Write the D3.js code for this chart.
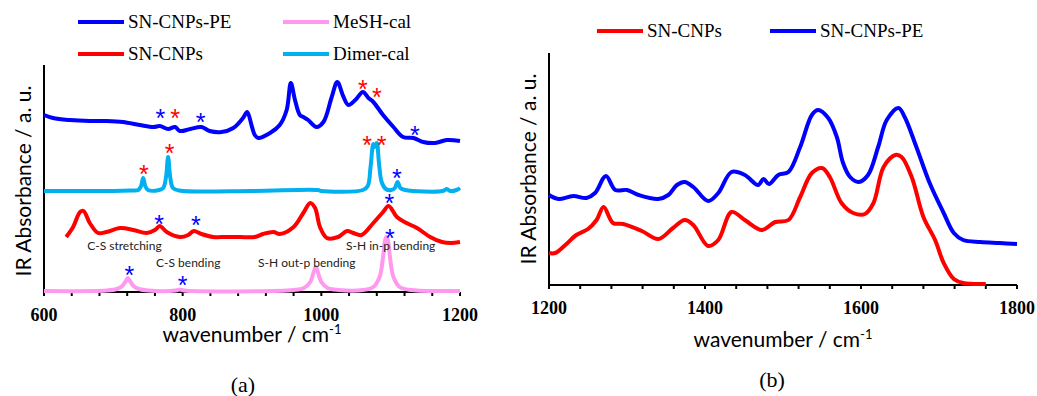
<!DOCTYPE html>
<html>
<head>
<meta charset="utf-8">
<script src="https://cdn.jsdelivr.net/npm/d3@7"></script>
<style>
  body { margin: 0; background: #fff; }
  svg { display: block; }
</style>
</head>
<body>
<svg id="chart" width="1037" height="396"></svg>
<script>
// ---- data (wavenumber, absorbance in a.u.) ----
var leftTicks  = [600, 800, 1000, 1200]
var rightTicks = [1200, 1400, 1600, 1800]

var leftLegend  = ["SN-CNPs-PE", "MeSH-cal", "SN-CNPs", "Dimer-cal"]
var rightLegend = ["SN-CNPs", "SN-CNPs-PE"]

// (a) SN-CNPs-PE, offset trace on top
var pePoints = [[600,177],[613,174],[637,172],[666,171],[690,171],[714,170],[738,167],[758,165],
  [767,166],[779,163],[789,165],[796,161],[811,163],[827,165],[839,161],[856,160],[873,164],
  [887,174],[893,180],[900,165],[904,157],[909,154],[926,159],[940,167],[950,182],[956,209],
  [962,192],[969,177],[974,175],[981,172],[993,165],[1003,170],[1015,195],[1023,210],[1032,195],
  [1039,187],[1049,192],[1060,200],[1068,194],[1075,190],[1089,177],[1104,165],[1118,155],
  [1133,154],[1147,150],[1164,149],[1181,152],[1200,151]]

// (a) Dimer-cal
var dimerPoints = [[600,101],[700,101],[725,101.5],[736,102],[740,106],[743,114],[746,106],[750,102],
  [766,102],[772,104],[776,115],[779,135],[782,115],[786,104],[795,101.5],[900,101],[995,102],
  [1000,101],[1060,102],[1067,106],[1071,125],[1075,148],[1077,145],[1080,149],[1083,130],[1087,110],
  [1093,103],[1101,102],[1106,104],[1110,110],[1114,104],[1121,102],[1175,101],[1181,103],[1186,101],
  [1195,102],[1200,104]]

// (a) SN-CNPs
var cnpPoints = [[632,55],[642,65],[652,80],[657,81],[666,69],[678,59],[690,60],[710,64],[729,62],
  [748,59],[760,62],[767,66],[777,60],[796,55],[808,57],[816,61],[827,58],[844,55],[863,55],
  [883,55],[904,55],[916,58],[931,60],[940,58],[960,65],[974,79],[984,89],[991,84],[998,65],
  [1008,54],[1024,55],[1037,61],[1046,59],[1058,57],[1075,69],[1089,80],[1097,86],[1109,75],
  [1123,69],[1138,64],[1157,55],[1174,50],[1187,49],[1200,50]]

// (a) MeSH-cal
var meshPoints = [[600,1],[690,1.5],[705,3],[713,6],[718,11],[721,14],[724,11],[729,6],[737,3],
  [750,1.5],[790,1.5],[796,2.5],[802,1.5],[960,2],[975,4],[984,10],[989,20],[992,25],[995,20],
  [1000,10],[1009,4],[1025,2],[1060,2],[1075,5],[1084,15],[1089,35],[1092,52],[1094,55],[1096,52],
  [1099,35],[1104,15],[1113,5],[1130,2],[1200,1]]

// (a) asterisk marks: wavenumber, level, colour key
var starMarks = [[768,179,"b"],[789,179,"r"],[826,175,"b"],[744,123,"r"],[781,144,"r"],
  [766,73,"b"],[819,72,"b"],[723,22,"b"],[800,12,"b"],[1060,208,"r"],[1080,200,"r"],
  [1135,162,"b"],[1066,152,"r"],[1087,152,"r"],[1109,119,"b"],[1098,94,"b"],[1099,59,"b"]]

// (a) band notes: text, centre wavenumber, level
var bandNotes = [["C-S stretching",716,47],["C-S bending",808,30],["S-H out-p bending",979,30],["S-H in-p bending",1100,47]]

// (b) spectra
var peRight = [[1200,90],[1212,86],[1231,89],[1248,87],[1259,92],[1273,109],[1285,95],[1300,95],
  [1315,90],[1340,86],[1353,90],[1364,100],[1374,103],[1385,98],[1404,84],[1417,92],[1434,113],
  [1451,110],[1468,100],[1475,106],[1482,101],[1494,110],[1507,113],[1522,138],[1537,170],
  [1545,175],[1558,167],[1569,148],[1577,122],[1586,108],[1597,103],[1609,110],[1622,138],
  [1633,165],[1648,177],[1656,168],[1671,138],[1688,102],[1706,72],[1719,52],[1731,45],
  [1753,43],[1778,42],[1800,41]]

var cnpRight = [[1200,32],[1208,32],[1221,40],[1235,50],[1250,56],[1261,65],[1270,78],[1282,62],
  [1295,61],[1319,54],[1340,46],[1359,57],[1374,65],[1385,60],[1404,39],[1417,45],[1434,73],
  [1451,65],[1473,55],[1490,63],[1507,65],[1522,88],[1537,112],[1550,117],[1560,108],[1575,82],
  [1590,72],[1605,71],[1616,82],[1629,118],[1644,130],[1652,128],[1665,108],[1680,68],[1695,45],
  [1706,22],[1719,6],[1731,2],[1760,1]]

var colBlue  = "#0000FF"
var colRed   = "#FF0000"
var colPink  = "#FF99F0"
var colCyan  = "#00B0F0"

var sansFont  = "Lato, 'Open Sans', sans-serif"
var serifFont = "'Liberation Serif', 'Times New Roman', serif"

var svg = d3.select("#chart")

function drawPanel(p) {
  var x = d3.scaleLinear().domain(p.xDomain).range([p.left, p.right])
  var y = d3.scaleLinear().domain([0, p.top0]).range([p.bottom, p.top])

  // minor ticks every 40 cm-1
  var minor = d3.range(p.xDomain[0], p.xDomain[1] + 1, 40)
  svg.append("g").selectAll("line").data(minor).join("line")
    .attr("x1", d => x(d)).attr("x2", d => x(d))
    .attr("y1", p.bottom).attr("y2", p.bottom + 4)
    .style("stroke", "#000").style("stroke-width", 2)

  // axis lines
  svg.append("line")
    .attr("x1", p.left).attr("x2", p.right).attr("y1", p.bottom).attr("y2", p.bottom)
    .style("stroke", "#000").style("stroke-width", 2)
  svg.append("line")
    .attr("x1", p.left).attr("x2", p.left).attr("y1", p.top).attr("y2", p.bottom)
    .style("stroke", "#000").style("stroke-width", 2)

  // tick labels
  svg.append("g").selectAll("text").data(p.ticks).join("text")
    .attr("x", d => x(d)).attr("y", p.bottom + 29)
    .attr("text-anchor", "middle")
    .style("font-family", serifFont).style("font-weight", "bold").style("font-size", "18px")
    .text(d => d)

  // axis titles
  var xt = svg.append("text")
    .attr("x", (p.left + p.right) / 2).attr("y", p.xTitleY)
    .attr("text-anchor", "middle")
    .style("font-family", sansFont).style("font-size", "21px")
  xt.append("tspan").text("wavenumber / cm")
  xt.append("tspan").attr("dy", -8).style("font-size", "13px").text("-1")

  svg.append("text")
    .attr("transform", "translate(" + p.yTitleX + "," + p.yTitleY + ") rotate(-90)")
    .attr("text-anchor", "middle")
    .style("font-family", sansFont).style("font-size", "21px")
    .text("IR Absorbance / a. u.")

  svg.append("text")
    .attr("x", p.capX).attr("y", p.capY)
    .attr("text-anchor", "middle")
    .style("font-family", serifFont).style("font-size", "22px")
    .text(p.caption)

  var line = d3.line().x(d => x(d[0])).y(d => y(d[1])).curve(d3.curveCatmullRom.alpha(0.5))
  p.series.forEach(function(s) {
    svg.append("path")
      .datum(s.data)
      .attr("d", line)
      .style("fill", "none")
      .style("stroke", s.color)
      .style("stroke-width", 4)
      .style("stroke-linejoin", "round")
  })
  return {x: x, y: y}
}

// ---- panel (a) ----
var a = drawPanel({
  xDomain: [600, 1200], left: 44, right: 460, top: 65, bottom: 292, top0: 227,
  ticks: leftTicks, xTitleY: 342, yTitleX: 31, yTitleY: 181, capX: 243, capY: 392, caption: "(a)",
  series: [
    {data: meshPoints, color: colPink},
    {data: cnpPoints, color: colRed},
    {data: dimerPoints, color: colCyan},
    {data: pePoints, color: colBlue}
  ]
})

svg.append("g").selectAll("text").data(starMarks).join("text")
  .attr("x", d => a.x(d[0]))
  .attr("y", d => a.y(d[1]) + 14)
  .attr("text-anchor", "middle")
  .style("font-family", "'Liberation Sans', sans-serif")
  .style("font-size", "25px")
  .style("fill", d => d[2] == "b" ? colBlue : colRed)
  .text("*")

svg.append("g").selectAll("text").data(bandNotes).join("text")
  .attr("x", d => a.x(d[1]))
  .attr("y", d => a.y(d[2]) + 5)
  .attr("text-anchor", "middle")
  .style("font-family", sansFont)
  .style("font-size", "12px")
  .style("fill", "#222")
  .text(d => d[0])

// ---- panel (b) ----
var b = drawPanel({
  xDomain: [1200, 1800], left: 549, right: 1017, top: 53, bottom: 285, top0: 232,
  ticks: rightTicks, xTitleY: 347, yTitleX: 536, yTitleY: 169, capX: 772, capY: 387, caption: "(b)",
  series: [
    {data: cnpRight, color: colRed},
    {data: peRight, color: colBlue}
  ]
})

// ---- legends ----
var leftLegendPos = [[78, 22, colBlue], [283, 22, colPink], [78, 54, colRed], [283, 54, colCyan]]
var rightLegendPos = [[597, 31, colRed], [770, 31, colBlue]]

function drawLegend(labels, pos) {
  labels.forEach(function(lab, i) {
    var q = pos[i]
    svg.append("line")
      .attr("x1", q[0]).attr("x2", q[0] + 46).attr("y1", q[1]).attr("y2", q[1])
      .style("stroke", q[2]).style("stroke-width", 4)
    svg.append("text")
      .attr("x", q[0] + 50).attr("y", q[1] + 6)
      .style("font-family", serifFont).style("font-size", "19px")
      .text(lab)
  })
}
drawLegend(leftLegend, leftLegendPos)
drawLegend(rightLegend, rightLegendPos)
</script>
</body>
</html>
